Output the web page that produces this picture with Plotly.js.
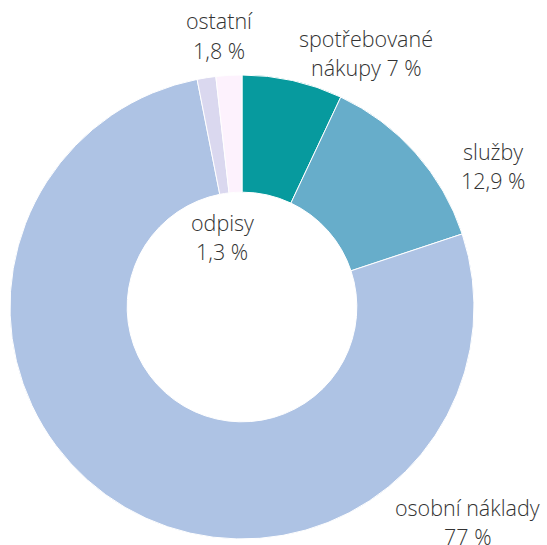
<!DOCTYPE html>
<html><head><meta charset="utf-8">
<script src="https://cdn.plot.ly/plotly-3.0.1.min.js"></script>
<style>html,body{margin:0;padding:0;background:#fff}</style>
</head><body><div id="chart" style="width:547px;height:545px"></div>
<script>
var categories = ["spotřebované nákupy", "služby", "osobní náklady", "odpisy", "ostatní"];
var values = [7, 12.9, 77, 1.3, 1.8];
var colors = ["#079a9e", "#67adca", "#aec3e4", "#dad8ef", "#fdf2fd"];
var labelLines = [
  ["spotřebované", "nákupy 7 %"],
  ["služby", "12,9 %"],
  ["osobní náklady", "77 %"],
  ["odpisy", "1,3 %"],
  ["ostatní", "1,8 %"]
];
var labelPos = [[366, 38], [493, 151], [467, 507], [222, 222], [219, 21]];
var W = 547, H = 545, lineGap = 29;
var annotations = [];
labelLines.forEach(function(lines, i){
  lines.forEach(function(t, j){
    annotations.push({
      text: t, showarrow: false, xref: 'paper', yref: 'paper',
      x: labelPos[i][0] / W, y: 1 - (labelPos[i][1] + j * lineGap) / H,
      xanchor: 'center', yanchor: 'middle',
      font: {family: 'Open Sans', size: 21.5, color: '#333333', weight: 300}
    });
  });
});
var cx = 242, cy = 307, R = 232;
var data = [{
  type: 'pie', labels: categories, values: values, sort: false,
  direction: 'clockwise', rotation: 0, hole: 0.495,
  marker: {colors: colors, line: {color: '#ffffff', width: 1}},
  textinfo: 'none', hoverinfo: 'label+percent',
  domain: {x: [(cx - R) / W, (cx + R) / W], y: [(H - cy - R) / H, (H - cy + R) / H]}
}];
var layout = {
  width: W, height: H, margin: {l: 0, r: 0, t: 0, b: 0},
  showlegend: false, paper_bgcolor: '#fff', annotations: annotations
};
Plotly.newPlot('chart', data, layout, {displayModeBar: false, staticPlot: true});
</script></body></html>
